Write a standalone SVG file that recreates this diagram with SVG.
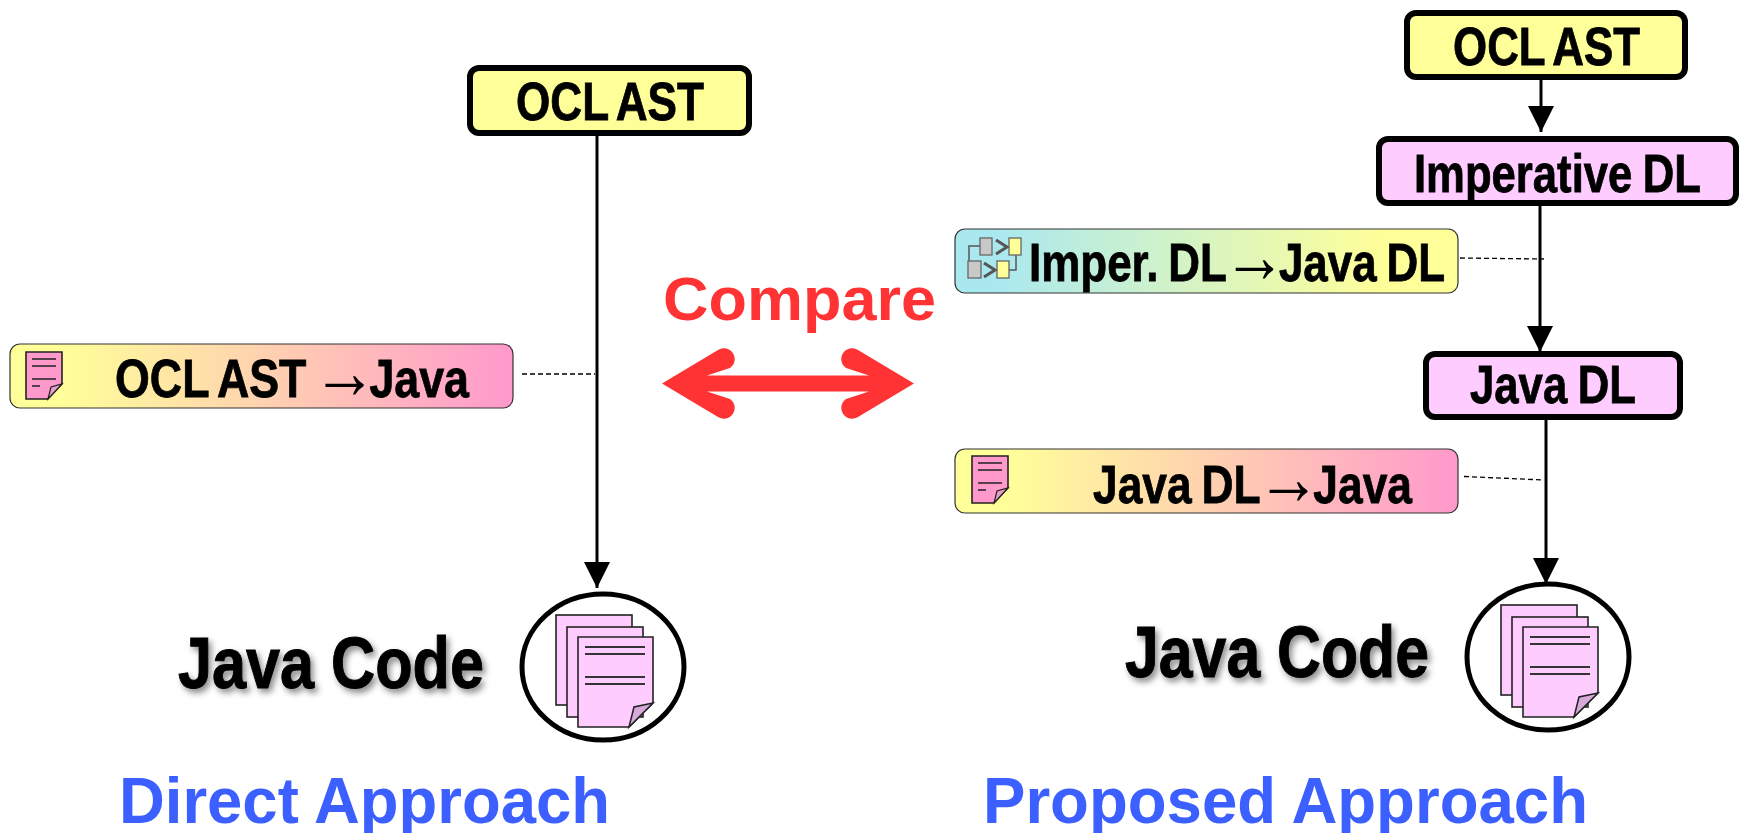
<svg xmlns="http://www.w3.org/2000/svg" xmlns:xlink="http://www.w3.org/1999/xlink" width="1746" height="833" viewBox="0 0 1746 833">
<style>
text{font-family:"Liberation Sans",Arial,sans-serif;font-weight:700;fill:#000}
.box{stroke:#000;stroke-width:6}
.y{fill:#ffff99}.p{fill:#ffccff}
.t{font-size:54px;word-spacing:-4px;stroke:#000;stroke-width:.8px}
.lab{stroke:#333;stroke-width:1.2}
.lbl{font-size:54px;word-spacing:-3px;stroke:#000;stroke-width:.8px}
.thin{font-family:"Liberation Serif",serif;font-weight:400;font-size:78px;stroke:none}
.ln{stroke:#000;stroke-width:3;fill:none}
.dash{stroke:#000;stroke-width:1.3;stroke-dasharray:5 3;fill:none}
.head{font-size:64px;fill:#3b60ff}
.code{font-size:73px;stroke:#000;stroke-width:1px;filter:url(#sh)}
.d{fill:#ffccff;stroke:#222;stroke-width:1.6}
.dl{stroke:#333;stroke-width:1.8;fill:none}
</style>
<defs>
<linearGradient id="gp"><stop offset="0.1" stop-color="#ffff99"/><stop offset="1" stop-color="#ff99cc"/></linearGradient>
<linearGradient id="gb"><stop offset="0.08" stop-color="#aae8f0"/><stop offset="0.85" stop-color="#ffff99"/></linearGradient>
<filter id="sh" x="-5%" y="-15%" width="110%" height="135%"><feDropShadow dx="3" dy="4" stdDeviation="3" flood-color="#000" flood-opacity="0.45"/></filter>
<marker id="ah" markerUnits="userSpaceOnUse" markerWidth="27" markerHeight="27" refX="26" refY="13" orient="auto"><path d="M0 0L26 13L0 26Z" fill="#000"/></marker>
<g id="doc">
<path d="M0 0H36V32L22 47H0Z" fill="#ff99cc" stroke="#222" stroke-width="1.6"/>
<path d="M22 47L25 35L36 32Z" fill="#e8a0c8" stroke="#222" stroke-width="1.2"/>
<path d="M6 7H30M6 14H30M6 27H30M6 34H14" stroke="#222" stroke-width="1.6" fill="none"/>
</g>
<g id="stack">
<ellipse cx="603" cy="667" rx="81" ry="73" fill="#fff" stroke="#000" stroke-width="5"/>
<rect class="d" x="556" y="615" width="76" height="90"/>
<rect class="d" x="567" y="627" width="76" height="90"/>
<path class="d" d="M578 637H653V703L629 727H578Z"/>
<path d="M629 727L634 707L653 703Z" fill="#d8a8d8" stroke="#222" stroke-width="1.5"/>
<path class="dl" d="M585 647H645M585 654H645M585 677H645M585 684H645"/>
</g>
</defs>

<g id="connectors">
<path class="ln" d="M597 134V588" marker-end="url(#ah)"/>
<path class="ln" d="M1541 78V132" marker-end="url(#ah)"/>
<path class="ln" d="M1540 205V352" marker-end="url(#ah)"/>
<path class="ln" d="M1546 419V584" marker-end="url(#ah)"/>
<path class="dash" d="M522 374H595"/>
<path class="dash" d="M1460 258L1544 259"/>
<path class="dash" d="M1464 476.500L1544 480"/>
</g>

<g id="ocl-left">
<rect class="box y" x="470" y="68" width="279" height="65" rx="9"/>
<text class="t" x="516" y="120" textLength="188" lengthAdjust="spacingAndGlyphs">OCL AST</text>
</g>
<g id="ocl-right">
<rect class="box y" x="1407" y="13" width="278" height="64" rx="9"/>
<text class="t" x="1453" y="65" textLength="187" lengthAdjust="spacingAndGlyphs">OCL AST</text>
</g>
<g id="imperative-dl">
<rect class="box p" x="1379" y="139" width="357" height="64" rx="9"/>
<text class="t" style="word-spacing:-2px" x="1414" y="192" textLength="287" lengthAdjust="spacingAndGlyphs">Imperative DL</text>
</g>
<g id="java-dl">
<rect class="box p" x="1426" y="354" width="254" height="63" rx="9"/>
<text class="t" style="word-spacing:-2px" x="1470" y="403" textLength="166" lengthAdjust="spacingAndGlyphs">Java DL</text>
</g>

<g id="label-ocl-java">
<rect class="lab" x="10" y="344" width="503" height="64" rx="10" fill="url(#gp)"/>
<use href="#doc" x="26" y="352"/>
<text class="lbl" x="115" y="397" textLength="354" lengthAdjust="spacingAndGlyphs">OCL AST <tspan class="thin" dx="-5" dy="1">→</tspan><tspan dx="-9" dy="-1">Java</tspan></text>
</g>
<g id="label-imper-java">
<rect class="lab" x="955" y="229" width="503" height="64" rx="10" fill="url(#gb)"/>
<path d="M980 246H969V261M1009 270H1016V255" stroke="#555" stroke-width="1.5" fill="none"/>
<rect x="980" y="238" width="12" height="17" fill="#c8c8c8" stroke="#666" stroke-width="1.3"/>
<rect x="1009" y="238" width="12" height="17" fill="#ffff99" stroke="#666" stroke-width="1.3"/>
<rect x="968" y="261" width="13" height="17" fill="#c8c8c8" stroke="#666" stroke-width="1.3"/>
<rect x="997" y="261" width="12" height="17" fill="#ffff99" stroke="#666" stroke-width="1.300"/>
<path d="M996 240L1007 247L996 254M984 263L995 270L984 277" stroke="#555" stroke-width="3" fill="none"/>
<text class="lbl" x="1029" y="281" textLength="416" lengthAdjust="spacingAndGlyphs">Imper. DL<tspan class="thin" dx="-5" dy="1">→</tspan><tspan dx="-9" dy="-1">Java DL</tspan></text>
</g>
<g id="label-java-java">
<rect class="lab" x="955" y="449" width="503" height="64" rx="10" fill="url(#gp)"/>
<use href="#doc" x="972" y="456"/>
<text class="lbl" x="1093" y="503" textLength="319" lengthAdjust="spacingAndGlyphs">Java DL<tspan class="thin" dx="-5" dy="1">→</tspan><tspan dx="-9" dy="-1">Java</tspan></text>
</g>

<g id="compare">
<text x="663" y="320" font-size="62" style="fill:#ff3333" textLength="273" lengthAdjust="spacingAndGlyphs">Compare</text>
<path fill="#ff3333" d="M662 383.500L718 350C731 343 741 360 730 368L707 375.500H869L846 368C835 360 845 343 858 350L914 383.500L858 417C845 424 835 407 846 399L869 391.500H707L730 399C741 407 731 424 718 417Z"/>
</g>

<g id="java-code-left">
<text class="code" x="178" y="688" textLength="306" lengthAdjust="spacingAndGlyphs">Java Code</text>
<use href="#stack"/>
</g>
<g id="java-code-right">
<text class="code" x="1125" y="677" textLength="304" lengthAdjust="spacingAndGlyphs">Java Code</text>
<use href="#stack" x="945" y="-10"/>
</g>

<text id="direct-approach" class="head" x="119" y="823" textLength="491" lengthAdjust="spacingAndGlyphs">Direct Approach</text>
<text id="proposed-approach" class="head" x="983" y="823" textLength="605" lengthAdjust="spacingAndGlyphs">Proposed Approach</text>
</svg>
